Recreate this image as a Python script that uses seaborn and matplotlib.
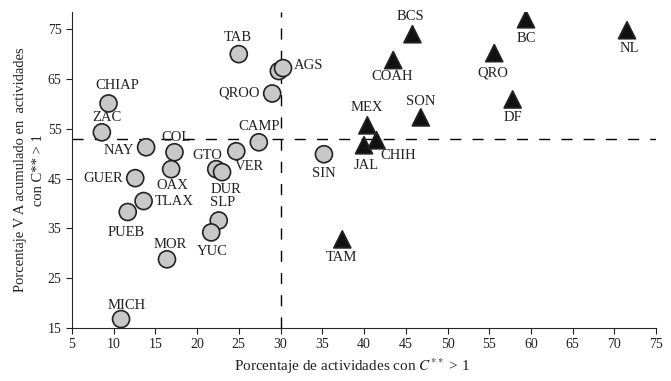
import pandas as pd
import seaborn as sns
import matplotlib.pyplot as plt

states = ["CHIAP", "ZAC", "NAY", "COL", "GUER", "OAX", "TLAX", "PUEB", "MOR", "MICH",
          "GTO", "DUR", "VER", "CAMP", "QROO", "AGS", "AGS2", "TAB", "SLP", "YUC", "SIN",
          "MEX", "JAL", "CHIH", "SON", "TAM", "BCS", "COAH", "QRO", "BC", "NL", "DF"]
pct_actividades = [9.4, 8.6, 13.9, 17.3, 12.6, 16.9, 13.6, 11.7, 16.4, 10.9,
                   22.3, 23.0, 24.7, 27.4, 29.0, 29.8, 30.3, 25.0, 22.6, 21.7, 35.2,
                   40.4, 40.0, 41.5, 46.8, 37.4, 45.8, 43.5, 55.6, 59.4, 71.5, 57.8]
pct_va = [60.1, 54.3, 51.3, 50.3, 45.1, 46.9, 40.5, 38.3, 28.8, 16.8,
          46.9, 46.3, 50.5, 52.3, 62.1, 66.6, 67.2, 70.0, 36.6, 34.2, 49.9,
          55.7, 51.7, 52.7, 57.3, 32.8, 74.0, 68.8, 70.2, 77.0, 74.8, 60.9]
grupo = ["circ"] * 21 + ["tri"] * 11

# label offsets in pixels (dx, dy), dy positive = up
offsets = {
    "CHIAP": (9, 18, "center"), "ZAC": (5, 15, "center"), "NAY": (-12, -3, "right"),
    "COL": (2, 15, "center"), "GUER": (-12, 0, "right"), "OAX": (1, -16, "center"),
    "TLAX": (11, 0, "left"), "PUEB": (-2, -20, "center"), "MOR": (3, 15, "center"),
    "MICH": (6, 14, "center"), "GTO": (-9, 14, "center"), "DUR": (4, -17, "center"),
    "VER": (13, -15, "center"), "CAMP": (0, 16, "center"), "QROO": (-12, 0, "right"),
    "AGS2": (11, 3, "left"), "TAB": (-1, 17, "center"), "SLP": (4, 18, "center"),
    "YUC": (1, -19, "center"), "SIN": (0, -19, "center"), "MEX": (0, 18, "center"),
    "JAL": (2, -20, "center"), "CHIH": (22, -15, "center"), "SON": (0, 16, "center"),
    "TAM": (-1, -18, "center"), "BCS": (-2, 18, "center"), "COAH": (-1, -16, "center"),
    "QRO": (-1, -20, "center"), "BC": (0, -19, "center"), "NL": (2, -18, "center"),
    "DF": (0, -18, "center"),
}

df = pd.DataFrame({"estado": states, "x": pct_actividades, "y": pct_va, "grupo": grupo})

sns.set_style("ticks")
plt.rcParams["font.family"] = ["Liberation Serif", "DejaVu Serif"]
plt.rcParams["mathtext.fontset"] = "stix"

fig = plt.figure(figsize=(6.71, 3.81), dpi=100)
ax = fig.add_axes([0.107, 0.139, 0.871, 0.83])

sns.scatterplot(data=df, x="x", y="y", hue="grupo", style="grupo",
                markers={"circ": "o", "tri": "^"},
                palette={"circ": "#c8c8c8", "tri": "#111111"},
                s=150, edgecolor="#222222", linewidth=1.2, legend=False, ax=ax, zorder=3)

ax.axvline(30, color="black", lw=1, dashes=(8, 8), zorder=1)
ax.axhline(53, color="black", lw=1, dashes=(8, 8), zorder=1)

for _, r in df.iterrows():
    if r.estado not in offsets:
        continue
    dx, dy, ha = offsets[r.estado]
    label = "AGS" if r.estado == "AGS2" else r.estado
    ax.annotate(label, (r.x, r.y), xytext=(dx, dy), textcoords="offset pixels",
                ha=ha, va="center", fontsize=10.5, color="#222222")

ax.set_xlim(5, 75)
ax.set_ylim(15, 78.5)
ax.set_xticks(range(5, 80, 5))
ax.set_yticks(range(15, 80, 10))
ax.tick_params(labelsize=10, colors="#222222", length=4)
ax.set_xlabel("Porcentaje de actividades con $C^{**}$ > 1", fontsize=11, color="#222222")
ax.xaxis.set_label_coords(0.48, -0.09)
ax.set_ylabel("Porcentaje V A acumulado en  actividades\ncon C** > 1", fontsize=10.5,
              color="#222222", linespacing=1.5)
ax.yaxis.set_label_coords(-0.045, 0.5)
sns.despine(ax=ax)

fig.savefig("out.png", dpi=100)
